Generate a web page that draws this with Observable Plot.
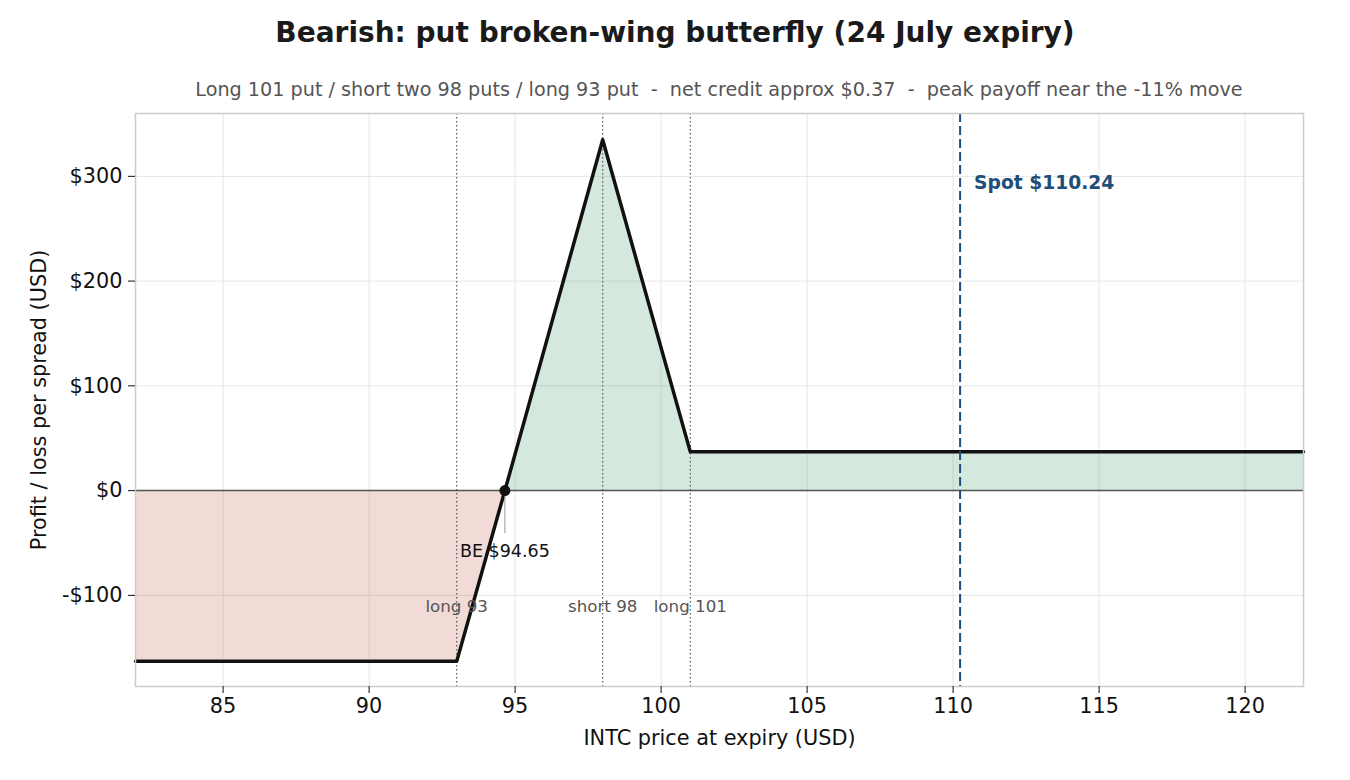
<!DOCTYPE html>
<html>
<head>
<meta charset="utf-8">
<script src="https://cdn.jsdelivr.net/npm/d3@7"></script>
<script src="https://cdn.jsdelivr.net/npm/@observablehq/plot@0.6"></script>
<style>
  html, body { margin: 0; padding: 0; background: #fff; }
  #wrap { position: relative; width: 1350px; height: 780px; font-family: "DejaVu Sans", sans-serif; }
  #title { position: absolute; left: 0; top: 19px; width: 1350px; text-align: center; font-size: 28px; line-height: 28px; font-weight: bold; color: #1a1a1a; }
  #subtitle { position: absolute; left: 135px; top: 80px; width: 1168px; text-align: center; font-size: 19.2px; line-height: 19px; color: #555; white-space: pre; }
  #chart { position: absolute; left: 0; top: 0; }
</style>
</head>
<body>
<div id="wrap">
  <div id="chart"></div>
  <div id="title">Bearish: put broken-wing butterfly (24 July expiry)</div>
  <div id="subtitle">Long 101 put / short two 98 puts / long 93 put  -  net credit approx $0.37  -  peak payoff near the -11% move</div>
</div>
<script>
// ---- data ----
const priceKnots = [82, 93, 94.65, 98, 101, 122];
const pnlKnots = [-163, -163, 0, 335, 37, 37];
const strikes = [93, 98, 101];
const strikeLabels = ["long 93", "short 98", "long 101"];
const spot = 110.24;
const breakeven = 94.65;
const xTicks = [85, 90, 95, 100, 105, 110, 115, 120];
const yTicks = [-100, 0, 100, 200, 300];

const table = priceKnots.map((p, i) => ({price: p, pnl: pnlKnots[i]}));
const fmtUSD = d => d < 0 ? `-$${-d}` : `$${d}`;

const chart = Plot.plot({
  width: 1350,
  height: 780,
  marginTop: 113,
  marginBottom: 94,
  marginLeft: 135,
  marginRight: 47,
  x: {domain: [82, 122]},
  y: {domain: [-187, 360]},
  style: {fontFamily: "DejaVu Sans", background: "white", color: "#111", overflow: "visible"},
  marks: [
    Plot.gridX(xTicks, {stroke: "#e6e6e6", strokeOpacity: 1, strokeWidth: 1}),
    Plot.gridY(yTicks, {stroke: "#e6e6e6", strokeOpacity: 1, strokeWidth: 1}),
    Plot.areaY(table.filter(d => d.price <= breakeven), {x: "price", y1: 0, y2: d => Math.min(0, d.pnl), fill: "#be4b32", fillOpacity: 0.2}),
    Plot.areaY(table.filter(d => d.price >= breakeven), {x: "price", y1: 0, y2: d => Math.max(0, d.pnl), fill: "#2d8c5a", fillOpacity: 0.2}),
    Plot.ruleX(strikes, {stroke: "#555", strokeWidth: 1.2, strokeDasharray: "1.5,2.5"}),
    Plot.ruleY([0], {stroke: "#555", strokeWidth: 1.5}),
    Plot.line(table, {x: "price", y: "pnl", stroke: "#111", strokeWidth: 3.5}),
    Plot.ruleX([spot], {stroke: "#1f4e79", strokeWidth: 2, strokeDasharray: "9,4"}),
    Plot.ruleX([breakeven], {y1: -5, y2: -41, stroke: "#999", strokeWidth: 1}),
    Plot.dot([breakeven], {x: d => d, y: 0, r: 5.5, fill: "#111", stroke: "none"}),
    Plot.text([breakeven], {x: d => d, y: -58, text: d => `BE $${d.toFixed(2)}`, fill: "#111", fontSize: 17.5}),
    Plot.text(strikes, {x: d => d, y: -111, text: (d, i) => strikeLabels[i], fill: "#555", fontSize: 16.7}),
    Plot.text([spot], {x: d => d, y: 294, dx: 14, textAnchor: "start", text: d => `Spot $${d.toFixed(2)}`, fill: "#1f4e79", fontWeight: "bold", fontSize: 18.7}),
    Plot.frame({stroke: "#cccccc", strokeWidth: 1.5}),
    Plot.axisX(xTicks, {tickSize: 7, tickPadding: 5, fontSize: 20.8, tickFormat: d => `${d}`, label: "INTC price at expiry (USD)", labelAnchor: "center", labelArrow: "none", labelOffset: 58}),
    Plot.axisY(yTicks, {tickSize: 7, tickPadding: 6, fontSize: 20.8, tickFormat: fmtUSD, label: "Profit / loss per spread (USD)", labelAnchor: "center", labelArrow: "none", labelOffset: 104})
  ]
});
document.getElementById("chart").appendChild(chart);
</script>
</body>
</html>
